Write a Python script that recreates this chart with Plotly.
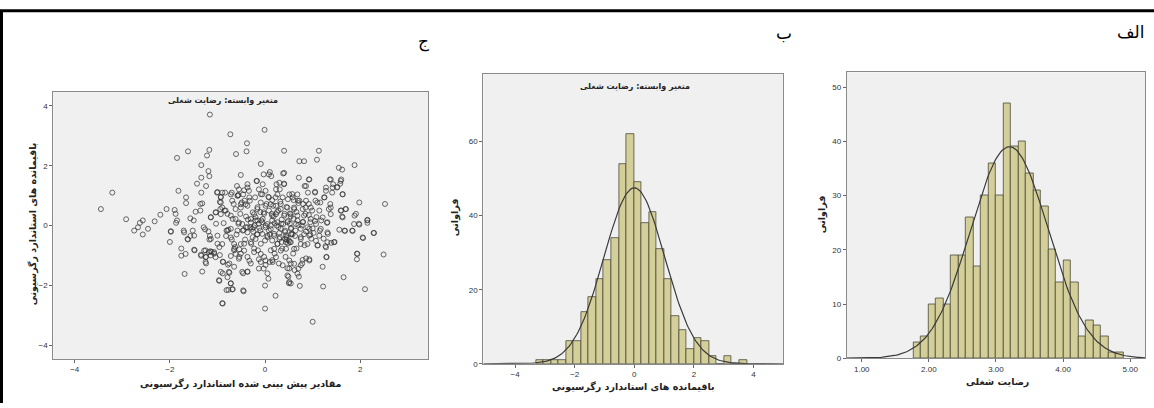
import plotly.graph_objects as go
import math

# ---------------- data ----------------
# Panel (ج) scatter: standardized predicted value (x) vs standardized residual (y)
residual_points = [
    (-3.45,0.55),(-3.21,1.10),(-2.92,0.21),(-2.75,-0.17),(-2.67,-0.06),(-2.63,0.09),(-2.57,0.17),(-2.57,-0.30),
    (-2.46,-0.11),(-2.32,0.14),(-2.20,0.36),(-2.07,0.55),(-2.0,-0.55),(-1.98,-0.19),(-1.90,0.52),(-1.88,0.39),
    (-1.85,0.17),(-1.87,0.09),(-1.82,1.16),(-1.85,2.26),(-1.76,-0.77),(-1.76,-1.01),(-1.71,-0.17),(-1.69,-1.62),
    (-1.66,0.94),(-1.66,0.75),(-1.62,2.48),(-1.62,-0.47),(-1.57,0.24),(-1.57,-0.35),(-1.52,-0.17),(-1.50,0.17),
    (-1.46,0.46),(-1.43,1.40),(-1.48,-0.83),(-1.34,2.02),(-1.34,1.60),(-1.34,1.10),(-1.36,0.72),(-1.32,0.74),
    (-1.36,0.50),(-1.34,-1.01),(-1.32,-1.54),(-1.29,-0.06),(-1.26,-0.13),(-1.25,-0.83),(-1.24,-1.05),(-1.24,-1.27),
    (-1.24,1.32),(-1.22,2.34),(-1.19,1.82),(-1.17,1.65),(-1.17,2.53),(-1.16,3.71),(-1.19,-0.20),(-1.16,-0.35),
    (-1.17,-0.47),(-1.14,0.28),(-1.15,-0.86),(-1.12,-0.88),(-1.07,-0.94),(-1.03,0.44),(-1.03,0.06),(-1.01,1.10),
    (-1.00,-0.61),(-0.96,-0.72),(-0.96,-1.85),(-0.95,-0.99),(-0.94,0.55),(-0.93,0.96),(-0.93,0.77),(-0.89,-2.61),
    (-0.89,-1.60),(-0.89,-1.21),(-0.87,0.08),(-0.85,0.50),(-0.84,1.10),(-0.82,-0.35),(-0.81,-0.17),(-0.79,0.39),
    (-0.79,-1.73),(-0.77,-0.14),(-0.77,-2.15),(-0.75,-1.27),(-0.75,-1.58),(-0.73,3.05),(-0.72,-1.93),(-0.72,-1.02),
    (-0.70,1.10),(-0.70,-0.47),(-0.68,-2.13),(-0.68,0.22),(-0.66,0.72),(-0.65,-0.83),(-0.65,-1.38),(-0.63,-0.72),
    (-0.61,2.39),(-0.59,1.32),(-0.58,0.99),(-0.56,1.02),(-0.56,0.06),(-0.54,-0.80),(-0.54,-1.05),(-0.52,0.39),
    (-0.51,1.69),(-0.51,-0.94),(-0.49,0.77),(-0.47,-0.17),(-0.46,-1.60),(-0.45,-2.20),(-0.44,1.18),(-0.44,-0.61),
    (-0.42,-0.47),(-0.40,-0.06),(-0.39,2.48),(-0.38,2.75),(-0.37,1.38),(-0.37,0.66),(-0.37,-1.05),(-0.37,-1.54),
    (-0.36,0.20),(-0.33,-1.18),(-0.32,0.83),(-0.31,-0.06),(-0.30,-1.27),(-0.29,-0.61),(-0.26,0.44),(-0.26,-0.39),
    (-0.24,-0.06),(-0.23,-0.77),(-0.22,0.0),(-0.21,0.94),(-0.20,0.17),(-0.17,1.49),(-0.17,-0.30),(-0.16,0.61),
    (-0.15,-0.83),(-0.13,0.06),(-0.13,-1.13),(-0.10,-0.17),(-0.09,2.06),(-0.09,-0.61),(-0.09,1.05),(-0.08,0.17),
    (-0.06,-0.28),(-0.05,1.38),(-0.03,1.71),(-0.02,-1.05),(-0.02,0.39),(-0.01,3.20),(0.0,-2.01),(0.0,-2.78),
    (0.01,-1.32),(0.01,0.0),(0.03,0.72),(0.05,-0.39),(0.05,-1.60),(0.07,0.96),(0.08,1.71),(0.08,-0.17),
    (0.10,1.79),(0.12,-0.83),(0.13,1.65),(0.14,0.39),(0.15,0.17),(0.15,-1.16),(0.17,0.66),(0.19,-0.28),
    (0.20,-0.94),(0.22,0.94),(0.22,-2.35),(0.24,1.38),(0.24,0.0),(0.26,-0.61),(0.28,0.50),(0.29,-1.27),
    (0.31,1.21),(0.31,-0.39),(0.33,0.72),(0.34,0.06),(0.36,-0.77),(0.38,1.74),(0.40,2.50),(0.40,1.38),
    (0.41,0.39),(0.42,-0.17),(0.43,-1.05),(0.45,-0.47),(0.47,-1.43),(0.48,0.88),(0.49,-1.71),(0.50,-1.93),
    (0.52,0.06),(0.52,-0.55),(0.54,0.30),(0.54,-1.27),(0.55,-0.28),(0.57,1.05),(0.59,-0.94),(0.61,0.55),
    (0.62,-1.49),(0.64,-0.17),(0.66,-0.77),(0.68,0.17),(0.69,0.83),(0.71,-1.71),(0.71,1.60),(0.72,2.15),
    (0.73,-2.02),(0.75,-0.39),(0.77,0.0),(0.78,-1.27),(0.80,0.72),(0.82,2.15),(0.83,1.32),(0.83,-0.66),
    (0.85,0.39),(0.86,-1.10),(0.89,-0.06),(0.90,1.10),(0.92,1.54),(0.92,0.72),(0.93,-1.13),(0.95,0.11),
    (0.97,-0.44),(0.99,0.50),(1.00,-3.22),(1.02,-0.25),(1.05,1.10),(1.06,0.83),(1.08,0.28),(1.09,2.20),
    (1.11,-0.66),(1.13,2.50),(1.15,-0.17),(1.16,0.77),(1.18,0.17),(1.21,-1.38),(1.22,-2.04),(1.23,-0.44),
    (1.25,0.94),(1.27,-0.69),(1.28,1.27),(1.29,-1.05),(1.30,0.09),(1.32,-0.28),(1.34,0.55),(1.36,1.54),
    (1.37,0.72),(1.39,-0.58),(1.41,1.10),(1.43,1.38),(1.46,-0.55),(1.51,1.27),(1.55,1.93),(1.58,1.40),
    (1.60,0.50),(1.60,1.54),(1.62,0.30),(1.62,1.87),(1.63,1.05),(1.65,-1.73),(1.67,-0.17),(1.69,0.55),
    (1.83,-0.17),(1.88,2.02),(1.88,0.33),(1.91,0.39),(1.93,-0.94),(1.93,-1.13),(1.97,0.06),(1.98,0.77),
    (2.06,-0.42),(2.10,-2.13),(2.15,0.17),(2.15,0.09),(2.28,-0.25),(2.49,-0.97),(2.52,0.72),
    # upper-left dense region
    (-1.00,1.12),(-0.90,1.10),(-0.93,0.94),(-0.95,0.79),(-0.72,1.04),(-0.69,0.83),(-0.57,1.01),(-0.55,1.21),
    (-0.46,1.04),(-0.43,0.83),(-0.34,1.16),(-0.33,0.94),(-0.37,1.27),(-0.18,1.49),(-0.13,1.21),(-0.06,1.04),
    (0.01,1.16),(0.08,0.94),(0.12,0.71),(0.01,0.66),(-0.09,0.77),(-0.16,0.55),(-0.03,0.44),(0.08,0.50),
    (0.15,0.33),(-0.23,0.38),(-0.30,0.22),(-0.16,0.17),(-0.06,0.11),(0.01,-0.06),(0.12,0.0),(-0.37,-0.06),
    (-0.27,-0.11),(-0.48,0.05),(-0.62,0.22),(-0.72,0.33),(-0.83,0.50),(-0.93,0.38),(-1.04,0.44),(-1.14,0.27),
    (-0.72,-0.11),(-0.58,-0.17),(-0.79,-0.17),(-0.51,0.71),(-0.51,0.60),(-0.41,0.71),(-0.62,0.55),(-0.90,0.60),
    # upper-right dense region
    (0.23,1.21),(0.30,1.43),(0.40,1.40),(0.40,1.76),(0.26,1.04),(0.37,0.94),(0.51,1.04),(0.58,0.94),
    (0.68,1.04),(0.72,0.83),(0.86,0.83),(0.86,1.32),(0.93,1.54),(1.05,1.13),(1.10,0.77),(1.24,0.94),
    (1.28,1.16),(1.38,1.54),(1.42,1.27),(1.52,1.29),(1.63,1.04),(1.59,1.49),(0.23,0.66),(0.33,0.55),
    (0.47,0.60),(0.61,0.60),(0.79,0.55),(0.96,0.60),(1.14,0.50),(1.38,0.60),(1.38,0.38),(1.59,0.50),
    (1.70,0.55),(0.23,0.38),(0.40,0.33),(0.54,0.38),(0.68,0.33),(0.82,0.33),(0.96,0.22),(1.21,0.27),
    (1.31,0.11),(1.63,0.27),(0.26,0.11),(0.47,0.11),(0.65,0.05),(0.79,0.11),(1.07,0.05),(0.33,-0.11),
    (0.54,-0.11),(0.75,-0.11),(0.93,-0.11),(1.17,-0.11),(1.87,0.05),(1.98,0.03),(2.15,0.19),(1.56,-0.14),
    # lower-left dense region
    (-1.67,-0.95),(-1.49,-0.81),(-1.35,-0.98),(-1.28,-0.84),(-1.25,-1.06),(-1.18,-0.89),(-1.14,-1.00),(-1.07,-0.89),
    (-1.04,-1.06),(-1.25,-1.22),(-0.93,-1.55),(-0.97,-1.83),(-0.88,-1.22),(-0.78,-1.31),(-0.76,-1.55),(-0.72,-1.94),
    (-0.81,-2.16),(-0.69,-2.14),(-0.90,-2.60),(-0.46,-2.17),(-0.48,-1.55),(-0.37,-1.55),(-0.55,-1.11),(-0.44,-0.84),
    (-0.65,-0.78),(-0.62,-0.95),(-0.51,-0.62),(-0.30,-0.56),(-0.23,-0.89),(-0.09,-0.95),(-0.09,-1.22),(0.01,-1.17),
    (0.07,-1.78),(0.10,-1.22),(-0.13,-1.44),(-0.03,-1.44),(-0.90,-0.62),(-0.72,-0.40),(-1.00,-0.34),(-1.14,-0.45),
    (-1.49,-0.34),(-1.63,-0.45),(-1.70,-0.23),(-1.98,-0.21),(-0.37,-0.23),(-0.16,-0.29),(0.05,-0.34),(-0.65,-0.62),
    # lower-right dense region
    (0.51,-1.89),(0.54,-1.94),(0.47,-1.67),(0.51,-1.44),(0.68,-1.61),(0.70,-1.44),(0.75,-1.33),(0.61,-1.28),
    (0.79,-1.15),(0.93,-1.17),(0.51,-1.17),(0.37,-1.33),(0.33,-0.84),(0.19,-0.78),(0.44,-0.78),(0.61,-0.78),
    (0.75,-0.62),(0.89,-0.62),(1.10,-0.67),(1.28,-0.73),(1.29,-1.06),(1.31,-0.56),(1.45,-0.56),(1.94,-0.95),
    (2.29,-0.25),(2.05,-0.40),(1.84,-0.18),(1.68,-0.18),(1.31,-0.23),(1.14,-0.34),(0.93,-0.34),(0.82,-0.29),
    (0.58,-0.29),(0.44,-0.34),(0.30,-0.45),(0.19,-0.34),(0.44,-0.56),(0.26,-0.62),(0.54,-0.56),(1.07,-0.51),
    (0.16,-1.22),(0.23,-1.06),
    # central core
    (0.05,0.05),(0.12,-0.12),(0.20,0.08),(0.28,-0.05),(0.35,0.20),(0.42,-0.22),(0.48,0.15),(0.55,-0.08),
    (0.60,0.22),(0.63,-0.35),(0.70,0.02),(0.45,-0.40),(0.38,0.05),(0.30,-0.25),(0.18,0.30),(0.10,-0.30),
    (-0.05,0.22),(-0.12,-0.08),(-0.20,0.28),(-0.25,-0.20),(0.50,-0.50),(0.55,-0.30),(0.42,-0.45),(0.48,-0.60),
    (0.35,-0.55),(0.52,0.40),(0.66,0.45),(0.25,0.45),(0.80,0.12),(0.86,-0.20),(0.92,0.35),(1.00,-0.10),
    (1.05,0.15),(0.95,-0.30),(-0.30,0.10),(-0.40,0.30),(-0.45,-0.15),(-0.55,0.10),(-0.60,-0.30),(-0.10,0.45),
    (0.00,-0.50),(0.15,-0.50),(-0.20,-0.45),(0.75,-0.45),(0.85,0.60),(0.70,0.75),(0.60,0.85),(0.45,0.62),
    (0.32,0.80),(0.15,0.85),
]
pred_std = [p[0] for p in residual_points]
resid_std = [p[1] for p in residual_points]

# Panel (ب): histogram of standardized residuals
resid_bin_start = -3.30
resid_bin_width = 0.2527
resid_counts = [1, 1, 1, 1, 6, 6, 14, 18, 23, 28, 34, 54, 62, 49, 38, 41, 31, 23, 13, 9, 4, 7, 6, 2, 0, 2, 0, 1]
resid_curve = {"mean": 0.0, "sd": 1.02, "peak": 47.5}

# Panel (الف): histogram of job satisfaction
sat_bin_start = 1.769
sat_bin_width = 0.1118
sat_counts = [3, 4, 10, 11, 10, 19, 19, 26, 17, 30, 36, 30, 47, 39, 40, 34, 31, 28, 20, 14, 18, 14, 4, 7, 6, 4, 1, 1]
sat_curve = {"mean": 3.20, "sd": 0.58, "peak": 39.0}

scatter_xticks = [-4, -2, 0, 2]
scatter_yticks = [-4, -2, 0, 2, 4]
resid_xticks = [-4, -2, 0, 2, 4]
resid_yticks = [0, 20, 40, 60]
sat_xticks = [1, 2, 3, 4, 5]
sat_xticklabels = ["1.00", "2.00", "3.00", "4.00", "5.00"]
sat_yticks = [0, 10, 20, 30, 40, 50]

title_dep = "متغیر وابسته: رضایت شغلی"
lbl_scatter_x = "مقادیر پیش بینی شده استاندارد رگرسیونی"
lbl_resid = "باقیمانده های استاندارد رگرسیونی"
lbl_freq = "فراوانی"
lbl_sat = "رضایت شغلی"
panel_labels = ["الف", "ب", "ج"]

# ---------------- helpers ----------------
W, H = 1154, 408
def px(x):
    return x / W
def py(y):
    return 1 - y / H

def normal_curve(params, lo, hi, n=200):
    xs = [lo + (hi - lo) * i / (n - 1) for i in range(n)]
    ys = [params["peak"] * math.exp(-0.5 * ((x - params["mean"]) / params["sd"]) ** 2) for x in xs]
    return xs, ys

BAR_FILL = "#d4cf98"
BAR_LINE = "#4a4a3a"
PLOT_BG = "#f0f0f0"
TICKFONT = dict(family="Liberation Sans, Arial", size=8, color="#333")
PFONT = "DejaVu Sans"

fig = go.Figure()

# Scatter (ج)
fig.add_trace(go.Scatter(
    x=pred_std, y=resid_std, mode="markers", xaxis="x", yaxis="y",
    marker=dict(symbol="circle-open", size=5, color="rgba(45,45,45,0.7)", line=dict(width=1)),
    showlegend=False, hoverinfo="skip"))

# Histogram (ب)
rc = [resid_bin_start + resid_bin_width * (i + 0.5) for i in range(len(resid_counts))]
fig.add_trace(go.Bar(x=rc, y=resid_counts, width=resid_bin_width, xaxis="x2", yaxis="y2",
                     marker=dict(color=BAR_FILL, line=dict(color=BAR_LINE, width=0.8)),
                     showlegend=False, hoverinfo="skip"))
cx, cy = normal_curve(resid_curve, -5.07, 5.0)
fig.add_trace(go.Scatter(x=cx, y=cy, mode="lines", xaxis="x2", yaxis="y2",
                         line=dict(color="#3a3a3a", width=1.2), showlegend=False, hoverinfo="skip"))

# Histogram (الف)
sc = [sat_bin_start + sat_bin_width * (i + 0.5) for i in range(len(sat_counts))]
fig.add_trace(go.Bar(x=sc, y=sat_counts, width=sat_bin_width, xaxis="x3", yaxis="y3",
                     marker=dict(color=BAR_FILL, line=dict(color=BAR_LINE, width=0.8)),
                     showlegend=False, hoverinfo="skip"))
cx, cy = normal_curve(sat_curve, 0.776, 5.22)
fig.add_trace(go.Scatter(x=cx, y=cy, mode="lines", xaxis="x3", yaxis="y3",
                         line=dict(color="#3a3a3a", width=1.2), showlegend=False, hoverinfo="skip"))

def axis(domain, rng, tickvals, ticktext=None, anchor=None):
    d = dict(domain=domain, range=rng, tickvals=tickvals, showgrid=False, zeroline=False,
             showline=True, linecolor="#8a8a8a", linewidth=1, mirror=True,
             ticks="outside", ticklen=3, tickcolor="#666", tickfont=TICKFONT, anchor=anchor)
    if ticktext is not None:
        d["ticktext"] = ticktext
    return d

fig.update_layout(
    width=W, height=H, margin=dict(l=0, r=0, t=0, b=0),
    paper_bgcolor="white", plot_bgcolor=PLOT_BG, bargap=0,
    xaxis=axis([px(53.3), px(428.3)], [-4.45, 3.43], scatter_xticks, anchor="y"),
    yaxis=axis([py(363.3), py(92.7)], [-4.46, 4.48], scatter_yticks, anchor="x"),
    xaxis2=axis([px(483.3), px(783.3)], [-5.07, 5.0], resid_xticks, anchor="y2"),
    yaxis2=axis([py(368.3), py(75)], [0, 78.2], resid_yticks, anchor="x2"),
    xaxis3=axis([px(846.7), px(1145)], [0.776, 5.22], sat_xticks, sat_xticklabels, anchor="y3"),
    yaxis3=axis([py(362.7), py(73.3)], [0, 52.7], sat_yticks, anchor="x3"),
)

ann = []
def A(text, x, y, size, bold=True, angle=0, family=PFONT, color="#222"):
    t = f"<b>{text}</b>" if bold else text
    ann.append(dict(text=t, x=px(x), y=py(y), xref="paper", yref="paper", showarrow=False,
                    xanchor="center", yanchor="middle", textangle=angle,
                    font=dict(family=family, size=size, color=color)))

# in-plot titles
A(title_dep, 223, 102, 8)
A(title_dep, 635, 88, 8)
# axis titles
A(lbl_scatter_x, 240, 389, 9.5)
A(lbl_resid, 33, 227, 9.5, angle=-90)
A(lbl_resid, 633, 392, 9.5)
A(lbl_freq, 455, 220, 9.5, angle=-90)
A(lbl_sat, 997, 387, 9.5)
A(lbl_freq, 822, 217, 9.5, angle=-90)
# panel labels
A(panel_labels[0], 1131, 32, 17, bold=False, family="DejaVu Sans", color="#000")
A(panel_labels[1], 784, 33, 17, bold=False, family="DejaVu Sans", color="#000")
A(panel_labels[2], 423, 42, 17, bold=False, family="DejaVu Sans", color="#000")
fig.update_layout(annotations=ann)

fig.update_layout(shapes=[
    dict(type="line", xref="paper", yref="paper", x0=0, x1=1, y0=py(11), y1=py(11),
         line=dict(color="black", width=3)),
    dict(type="line", xref="paper", yref="paper", x0=px(1.5), x1=px(1.5), y0=py(11), y1=0,
         line=dict(color="black", width=3)),
])

fig.write_html("out.html", config={"displayModeBar": False},
               post_script="document.body.style.margin='0';")
